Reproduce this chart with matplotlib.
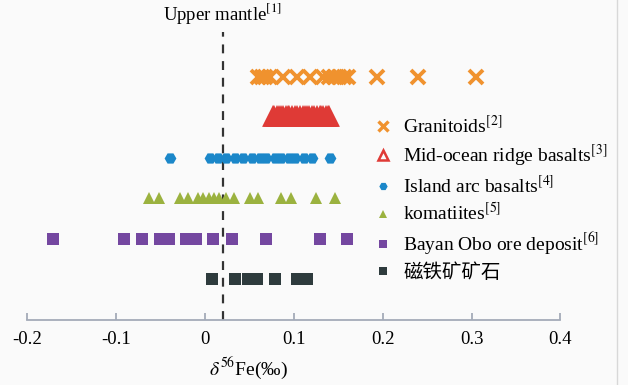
import matplotlib
matplotlib.use('Agg')
import matplotlib.pyplot as plt
from matplotlib.lines import Line2D

# delta56Fe values (permil)
granitoids = [0.060, 0.064, 0.068, 0.073, 0.088, 0.103, 0.118, 0.133, 0.140,
              0.146, 0.151, 0.156, 0.161, 0.193, 0.240, 0.305]
morb = [0.076, 0.078, 0.081, 0.083, 0.086, 0.088, 0.091, 0.093, 0.095, 0.098,
        0.101, 0.104, 0.107, 0.110, 0.113, 0.115, 0.117, 0.120, 0.123, 0.126,
        0.129, 0.131, 0.133, 0.136, 0.138, 0.140]
island_arc = [-0.039, 0.006, 0.015, 0.024, 0.034, 0.043, 0.053, 0.062, 0.069,
              0.079, 0.086, 0.094, 0.101, 0.111, 0.120, 0.141]
komatiites = [-0.063, -0.052, -0.028, -0.019, -0.008, -0.002, 0.004, 0.010,
              0.016, 0.024, 0.033, 0.051, 0.060, 0.086, 0.097, 0.125, 0.146]
bayan_obo = [-0.171, -0.091, -0.071, -0.051, -0.041, -0.021, -0.010, 0.009,
             0.030, 0.069, 0.129, 0.160]
magnetite = [0.008, 0.034, 0.048, 0.059, 0.079, 0.104, 0.115]

upper_mantle = 0.02
xticks = [-0.2, -0.1, 0, 0.1, 0.2, 0.3, 0.4]
xticklabels = ['-0.2', '-0.1', '0', '0.1', '0.2', '0.3', '0.4']

labels = [r'Granitoids$^{[2]}$', r'Mid-ocean ridge basalts$^{[3]}$',
          r'Island arc basalts$^{[4]}$', r'komatiites$^{[5]}$',
          r'Bayan Obo ore deposit$^{[6]}$', '磁铁矿矿石']

plt.rcParams['font.family'] = ['Liberation Serif', 'Noto Sans CJK SC']
plt.rcParams['mathtext.fontset'] = 'stix'

bg = '#fafafa'
fig = plt.figure(figsize=(6.28, 3.85), dpi=100, facecolor=bg)
ax = fig.add_axes([0.0435, 0.169, 0.849, 0.747], facecolor=bg)

c_or, c_red, c_blue = '#f0922e', '#df3a36', '#1b87c9'
c_grn, c_pur, c_dk = '#9bb23f', '#7447a0', '#2e3b3d'

ax.plot(granitoids, [6] * len(granitoids), 'x', color=c_or, ms=10, mew=2.8)
ax.plot(morb, [5] * len(morb), '^', mfc='none', mec=c_red, ms=11, mew=2.6)
ax.plot(island_arc, [4] * len(island_arc), 'H', color=c_blue, ms=8.5, mew=0)
ax.plot(komatiites, [3] * len(komatiites), '^', color=c_grn, ms=9, mew=0)
ax.plot(bayan_obo, [2] * len(bayan_obo), 's', color=c_pur, ms=8.5, mew=0)
ax.plot(magnetite, [1] * len(magnetite), 's', color=c_dk, ms=8.5, mew=0)

ax.plot([upper_mantle, upper_mantle], [0, 7.1], color='#333333', lw=1.6,
        ls=(0, (4, 3.5)), zorder=0)
ax.text(upper_mantle, 7.25, r'Upper mantle$^{[1]}$', ha='center', va='bottom',
        fontsize=13.5)

ax.set_xlim(-0.2, 0.4)
ax.set_ylim(0, 7.1)
ax.set_xticks(xticks)
ax.set_xticklabels(xticklabels, fontsize=13.5)
ax.set_yticks([])
for s in ['left', 'top', 'right']:
    ax.spines[s].set_visible(False)
ax.spines['bottom'].set_color('#a4abb8')
ax.spines['bottom'].set_linewidth(1.3)
ax.tick_params(axis='x', direction='in', length=5, width=1.3,
               color='#a4abb8', pad=8)
ax.set_xlabel(r'$\delta^{56}$Fe(‰)', fontsize=14, x=0.415, labelpad=5)

handles = [
    Line2D([], [], ls='none', marker='x', color=c_or, ms=7, mew=2.4),
    Line2D([], [], ls='none', marker='^', mfc='none', mec=c_red, ms=7, mew=1.8),
    Line2D([], [], ls='none', marker='H', color=c_blue, ms=6, mew=0),
    Line2D([], [], ls='none', marker='^', color=c_grn, ms=6, mew=0),
    Line2D([], [], ls='none', marker='s', color=c_pur, ms=6, mew=0),
    Line2D([], [], ls='none', marker='s', color=c_dk, ms=6, mew=0),
]
fig.legend(handles, labels, loc='upper left', bbox_to_anchor=(0.579, 0.727),
           frameon=False, fontsize=14, handlelength=1.0, handletextpad=0.55,
           labelspacing=0.3, borderpad=0)

fig.add_artist(Line2D([617 / 628, 617 / 628], [0, 1], color='#d8d8d8', lw=1))

fig.savefig('out.png', dpi=100, facecolor=bg)
